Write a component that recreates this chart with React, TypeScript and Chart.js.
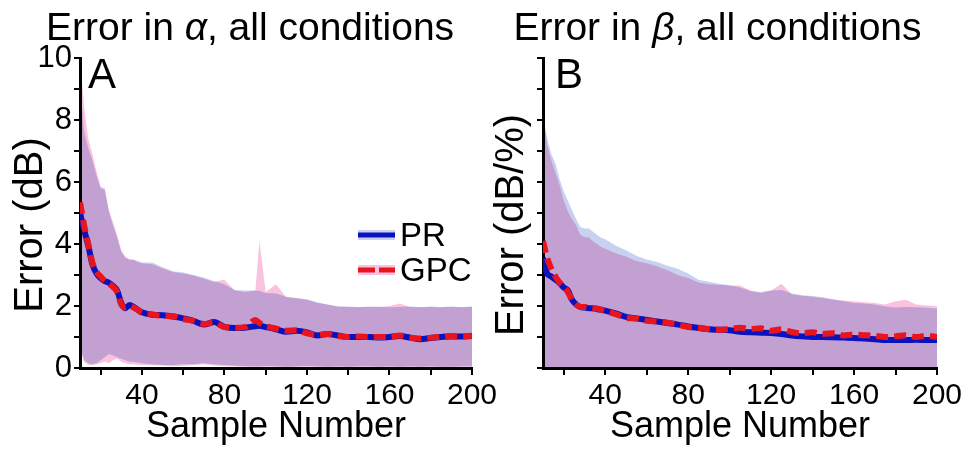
import React, { useEffect, useRef } from 'react';
import { Chart, registerables } from 'chart.js';

Chart.register(...registerables);

const FONT = "'Liberation Sans', Arial, Helvetica, sans-serif";

// ---- data ----
const sampleNumbers = [10, 12, 14, 16, 18, 20, 22, 24, 26, 28, 30, 32, 34, 36, 38, 40, 45, 50, 55, 60, 65, 70, 75, 80, 85, 90, 95, 97, 100, 105, 110, 115, 120, 125, 130, 135, 140, 145, 150, 155, 160, 165, 170, 175, 180, 185, 190, 195, 200];

const alphaPR = [5.0, 4.45, 3.95, 3.35, 3.05, 2.9, 2.8, 2.75, 2.65, 2.5, 2.1, 1.93, 2.03, 1.97, 1.88, 1.8, 1.72, 1.7, 1.66, 1.6, 1.52, 1.4, 1.48, 1.33, 1.29, 1.3, 1.35, 1.36, 1.32, 1.25, 1.17, 1.2, 1.15, 1.05, 1.1, 1.05, 1.0, 1.0, 1.0, 0.98, 1.0, 1.03, 0.98, 0.93, 0.97, 1.0, 1.02, 1.02, 1.03];
const alphaGPC = [5.35, 4.6, 4.0, 3.4, 3.1, 2.95, 2.8, 2.72, 2.62, 2.45, 2.05, 1.95, 2.0, 1.95, 1.87, 1.78, 1.73, 1.68, 1.67, 1.58, 1.52, 1.42, 1.46, 1.32, 1.3, 1.32, 1.55, 1.45, 1.35, 1.27, 1.2, 1.22, 1.12, 1.07, 1.1, 1.03, 1.0, 1.02, 1.0, 1.0, 1.0, 1.05, 0.98, 0.95, 0.98, 1.0, 1.03, 1.02, 1.04];
const alphaPRUpper = [9.3, 7.6, 7.1, 6.7, 6.2, 5.8, 5.75, 5.05, 4.6, 4.2, 3.75, 3.55, 3.5, 3.5, 3.45, 3.4, 3.4, 3.25, 3.12, 3.08, 3.0, 2.92, 2.8, 2.7, 2.52, 2.5, 2.5, 2.48, 2.42, 2.4, 2.3, 2.26, 2.22, 2.12, 2.05, 1.98, 1.98, 1.97, 1.97, 1.98, 1.96, 1.97, 1.98, 1.97, 1.98, 1.97, 1.98, 1.97, 1.98];
const alphaPRLower = [0.7, 0.25, 0.15, 0.12, 0.15, 0.25, 0.35, 0.45, 0.4, 0.35, 0.3, 0.25, 0.2, 0.2, 0.18, 0.15, 0.12, 0.1, 0.1, 0.12, 0.12, 0.15, 0.12, 0.1, 0.08, 0.06, 0.05, 0.05, 0.06, 0.05, 0.04, 0.05, 0.06, 0.05, 0.04, 0.05, 0.04, 0.05, 0.05, 0.04, 0.05, 0.04, 0.05, 0.04, 0.05, 0.04, 0.04, 0.05, 0.05];
const alphaGPCUpper = [10.0, 8.4, 7.4, 6.9, 6.35, 5.85, 5.8, 5.1, 4.7, 4.3, 3.8, 3.6, 3.5, 3.48, 3.42, 3.38, 3.35, 3.22, 3.1, 3.05, 2.98, 2.88, 2.78, 2.85, 2.5, 2.45, 2.5, 4.1, 2.45, 2.7, 2.28, 2.25, 2.2, 2.1, 2.05, 1.98, 1.97, 1.96, 1.98, 1.96, 2.0, 2.08, 1.97, 1.96, 1.97, 1.96, 1.97, 1.96, 1.97];
const alphaGPCLower = [0.6, 0.2, 0.1, 0.1, 0.12, 0.15, 0.2, 0.15, 0.25, 0.3, 0.2, 0.15, 0.12, 0.12, 0.1, 0.1, 0.08, 0.08, 0.06, 0.07, 0.1, 0.12, 0.08, 0.06, 0.05, 0.04, 0.04, 0.04, 0.05, 0.04, 0.03, 0.04, 0.05, 0.04, 0.03, 0.04, 0.03, 0.04, 0.04, 0.03, 0.04, 0.03, 0.04, 0.03, 0.04, 0.03, 0.03, 0.04, 0.04];

const betaPR = [3.55, 3.05, 2.95, 2.85, 2.74, 2.6, 2.5, 2.2, 2.05, 1.97, 1.95, 1.93, 1.93, 1.9, 1.88, 1.85, 1.76, 1.65, 1.6, 1.55, 1.5, 1.45, 1.4, 1.34, 1.29, 1.25, 1.23, 1.23, 1.22, 1.17, 1.15, 1.14, 1.13, 1.1, 1.05, 1.02, 1.0, 1.0, 0.99, 0.98, 0.97, 0.95, 0.93, 0.9, 0.9, 0.9, 0.91, 0.9, 0.9];
const betaGPC = [4.1, 3.55, 3.2, 2.95, 2.75, 2.62, 2.45, 2.2, 2.05, 1.97, 1.97, 1.95, 1.92, 1.92, 1.88, 1.84, 1.74, 1.62, 1.6, 1.52, 1.5, 1.46, 1.4, 1.32, 1.3, 1.25, 1.23, 1.24, 1.26, 1.3, 1.26, 1.28, 1.2, 1.25, 1.16, 1.12, 1.15, 1.1, 1.12, 1.05, 1.08, 1.06, 1.04, 1.0, 1.02, 1.06, 1.0, 1.04, 1.0];
const betaPRUpper = [8.1, 7.4, 6.9, 6.6, 6.1, 5.7, 5.4, 5.1, 4.8, 4.55, 4.5, 4.5, 4.4, 4.3, 4.2, 4.15, 3.95, 3.8, 3.62, 3.5, 3.42, 3.3, 3.2, 3.05, 2.85, 2.78, 2.72, 2.7, 2.68, 2.6, 2.48, 2.45, 2.5, 2.52, 2.4, 2.35, 2.32, 2.28, 2.22, 2.15, 2.1, 2.08, 2.05, 1.98, 1.95, 1.97, 1.96, 1.94, 1.92];
const betaGPCUpper = [8.3, 7.2, 6.7, 6.3, 5.9, 5.4, 5.05, 4.8, 4.6, 4.3, 4.22, 4.22, 4.1, 4.0, 3.9, 3.85, 3.7, 3.6, 3.45, 3.38, 3.28, 3.15, 3.0, 2.9, 2.76, 2.7, 2.68, 2.68, 2.65, 2.66, 2.5, 2.42, 2.5, 2.72, 2.38, 2.33, 2.3, 2.26, 2.2, 2.18, 2.15, 2.12, 2.1, 2.05, 2.15, 2.2, 2.05, 2.02, 2.0];

const yTickValues = [0, 1, 2, 3, 4, 5, 6, 7, 8, 9, 10];
const xTickValues = [20, 40, 60, 80, 100, 120, 140, 160, 180, 200];

const BLUE = '#0a12bd';
const RED = '#e8141e';
const BAND_BLUE = 'rgb(200,210,240)';
const BAND_PINK = 'rgb(249,195,224)';

const pts = (ys: number[]) => sampleNumbers.map((x, i) => ({ x, y: ys[i] }));

type PanelSpec = {
  letter: string;
  letterX: number;
  yTitle: string;
  yTitleX: number;
  showYLabels: boolean;
  yWidth: number;
  padRight: number;
  prMean: number[];
  gpcMean: number[];
  prUpper: number[];
  gpcUpper: number[];
  prLower?: number[];
  gpcLower?: number[];
  legend: boolean;
};

function buildConfig(p: PanelSpec): any {
  const hidden = { borderColor: 'rgba(0,0,0,0)', borderWidth: 0, pointRadius: 0, fill: false };
  const datasets: any[] = [
    { label: 'GPC', data: pts(p.gpcMean), borderColor: RED, borderWidth: 6, borderDash: [12, 6], pointRadius: 0, fill: false, cubicInterpolationMode: 'monotone' },
    { label: 'PR', data: pts(p.prMean), borderColor: BLUE, borderWidth: 6, pointRadius: 0, fill: false, cubicInterpolationMode: 'monotone' },
  ];
  if (p.prLower && p.gpcLower) {
    datasets.push({ label: 'PR lower', data: pts(p.prLower), ...hidden });
    datasets.push({ label: 'PR upper', data: pts(p.prUpper), ...hidden, fill: 2, backgroundColor: BAND_BLUE });
    datasets.push({ label: 'GPC lower', data: pts(p.gpcLower), ...hidden });
    datasets.push({ label: 'GPC upper', data: pts(p.gpcUpper), ...hidden, fill: 4, backgroundColor: BAND_PINK });
  } else {
    datasets.push({ label: 'PR upper', data: pts(p.prUpper), ...hidden, fill: 'origin', backgroundColor: BAND_BLUE });
    datasets.push({ label: 'GPC upper', data: pts(p.gpcUpper), ...hidden, fill: 'origin', backgroundColor: BAND_PINK });
  }

  const decoPlugin = {
    id: 'deco' + p.letter,
    beforeDatasetsDraw(chart: any) {
      chart.ctx.globalCompositeOperation = 'multiply';
    },
    beforeDatasetDraw(chart: any, args: any) {
      chart.ctx.globalCompositeOperation = args.index <= 1 ? 'source-over' : 'multiply';
    },
    afterDatasetsDraw(chart: any) {
      chart.ctx.globalCompositeOperation = 'source-over';
    },
    afterDraw(chart: any) {
      const ctx = chart.ctx;
      const area = chart.chartArea;
      ctx.save();
      ctx.globalCompositeOperation = 'source-over';
      ctx.fillStyle = '#000';
      // panel letter
      ctx.font = `42px ${FONT}`;
      ctx.textBaseline = 'alphabetic';
      ctx.textAlign = 'left';
      ctx.fillText(p.letter, p.letterX, area.top + 30);
      // y axis title
      ctx.save();
      ctx.translate(p.yTitleX, (area.top + area.bottom) / 2 + 12);
      ctx.rotate(-Math.PI / 2);
      ctx.font = `40px ${FONT}`;
      ctx.textAlign = 'center';
      ctx.textBaseline = 'middle';
      ctx.fillText(p.yTitle, 0, 0);
      ctx.restore();
      if (p.legend) {
        const x0 = 358, x1 = 395;
        const yPR = 235, yGPC = 270;
        ctx.lineCap = 'butt';
        ctx.strokeStyle = BAND_BLUE; ctx.lineWidth = 10;
        ctx.beginPath(); ctx.moveTo(x0, yPR); ctx.lineTo(x1, yPR); ctx.stroke();
        ctx.strokeStyle = BLUE; ctx.lineWidth = 5;
        ctx.beginPath(); ctx.moveTo(x0, yPR); ctx.lineTo(x1, yPR); ctx.stroke();
        ctx.strokeStyle = BAND_PINK; ctx.lineWidth = 10;
        ctx.beginPath(); ctx.moveTo(x0, yGPC); ctx.lineTo(x1, yGPC); ctx.stroke();
        ctx.strokeStyle = RED; ctx.lineWidth = 5; ctx.setLineDash([17, 4]);
        ctx.beginPath(); ctx.moveTo(x0, yGPC); ctx.lineTo(x1, yGPC); ctx.stroke();
        ctx.setLineDash([]);
        ctx.font = `33px ${FONT}`;
        ctx.textAlign = 'left';
        ctx.textBaseline = 'middle';
        ctx.fillText(chart.data.datasets[1].label, 400, yPR + 2);
        ctx.fillText(chart.data.datasets[0].label, 400, yGPC + 2);
      }
      ctx.restore();
    },
  };

  return {
    type: 'line',
    data: { datasets },
    plugins: [decoPlugin],
    options: {
      animation: false,
      responsive: false,
      devicePixelRatio: 1,
      layout: { padding: { top: 58, right: p.padRight, bottom: 0, left: 0 } },
      plugins: { legend: { display: false }, tooltip: { enabled: false }, title: { display: false } },
      elements: { line: { tension: 0 } },
      scales: {
        x: {
          type: 'linear',
          min: 10,
          max: 200,
          afterBuildTicks: (s: any) => { s.ticks = xTickValues.map((v) => ({ value: v })); },
          afterFit: (s: any) => { s.height = 81; s.paddingLeft = 0; s.paddingRight = 0; },
          ticks: {
            autoSkip: false,
            maxRotation: 0,
            padding: 3,
            color: '#000',
            font: { family: FONT, size: 30 },
            callback: (v: number) => (v % 40 === 0 ? String(v) : ''),
          },
          grid: { drawOnChartArea: false, drawTicks: true, tickLength: 7, color: '#000', lineWidth: 2 },
          border: { display: true, color: '#000', width: 3 },
          title: { display: true, text: 'Sample Number', color: '#000', font: { family: FONT, size: 36 }, padding: { top: 0, bottom: 0 } },
        },
        y: {
          type: 'linear',
          min: 0,
          max: 10,
          afterBuildTicks: (s: any) => { s.ticks = yTickValues.map((v) => ({ value: v })); },
          afterFit: (s: any) => { s.width = p.yWidth; s.paddingTop = 0; s.paddingBottom = 0; },
          ticks: {
            autoSkip: false,
            padding: 2,
            color: '#000',
            font: { family: FONT, size: 31 },
            callback: (v: number) => (p.showYLabels && v % 2 === 0 ? String(v) : ''),
          },
          grid: { drawOnChartArea: false, drawTicks: true, tickLength: 6, color: '#000', lineWidth: 2 },
          border: { display: true, color: '#000', width: 3 },
          title: { display: false },
        },
      },
    },
  };
}

function Panel(props: { spec: PanelSpec; left: number; width: number }) {
  const ref = useRef<HTMLCanvasElement | null>(null);
  useEffect(() => {
    if (!ref.current) return;
    const chart = new Chart(ref.current, buildConfig(props.spec));
    return () => chart.destroy();
  }, []);
  return (
    <canvas
      ref={ref}
      width={props.width}
      height={449}
      style={{ position: 'absolute', left: props.left, top: 0, width: props.width, height: 449 }}
    />
  );
}

const panelA: PanelSpec = {
  letter: 'A', letterX: 88, yTitle: 'Error (dB)', yTitleX: 31, showYLabels: true, yWidth: 80, padRight: 38,
  prMean: alphaPR, gpcMean: alphaGPC, prUpper: alphaPRUpper, gpcUpper: alphaGPCUpper,
  prLower: alphaPRLower, gpcLower: alphaGPCLower, legend: true,
};
const panelB: PanelSpec = {
  letter: 'B', letterX: 72, yTitle: 'Error (dB/%)', yTitleX: 29, showYLabels: false, yWidth: 60, padRight: 30,
  prMean: betaPR, gpcMean: betaGPC, prUpper: betaPRUpper, gpcUpper: betaGPCUpper, legend: false,
};

const titleStyle: React.CSSProperties = {
  position: 'absolute', top: 7, fontFamily: FONT, fontSize: 39, lineHeight: '39px',
  color: '#000', textAlign: 'center', whiteSpace: 'nowrap',
};

export default function App() {
  return (
    <div style={{ position: 'fixed', left: 0, top: 0, width: 967, height: 449, background: '#fff', overflow: 'hidden' }}>
      <Panel spec={panelA} left={0} width={510} />
      <Panel spec={panelB} left={483} width={484} />
      <div style={{ ...titleStyle, left: 46, width: 400 }}>Error in <i>α</i>, all conditions</div>
      <div style={{ ...titleStyle, left: 510, width: 415 }}>Error in <i>β</i>, all conditions</div>
    </div>
  );
}
